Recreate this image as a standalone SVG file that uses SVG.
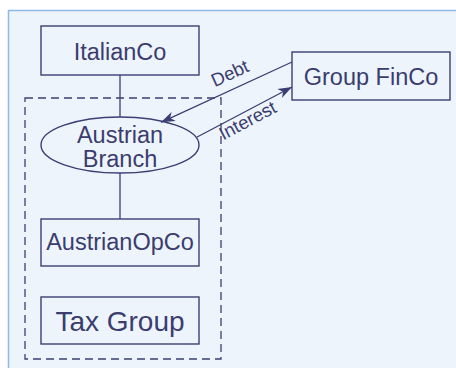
<svg xmlns="http://www.w3.org/2000/svg" width="456" height="368" viewBox="0 0 456 368">
<style>
.box{fill:none;stroke:#3b3f72;stroke-width:1.4}
.ln{fill:none;stroke:#3b3f72;stroke-width:1.3}
.t{font-family:"Liberation Sans",Arial,sans-serif;fill:#3b3d6e;text-anchor:middle}
.big{font-size:23.5px}
.lbl{font-size:18.5px}
</style>
<defs>
<marker id="ah" viewBox="0 0 14 10" refX="14" refY="5" markerWidth="14" markerHeight="10" markerUnits="userSpaceOnUse" orient="auto">
<path d="M0,0 L14,5 L0,10 L4,5 z" fill="#3b3f72"/>
</marker>
</defs>
<rect x="0" y="0" width="456" height="368" fill="#ffffff"/>
<rect x="8" y="10" width="448" height="358" fill="#edf4fc"/>
<path d="M8.5,368 V10.5 H456" fill="none" stroke="#8cb9e6" stroke-width="1.5"/>
<g id="taxgroup-boundary">
<rect x="25" y="98" width="196" height="261" fill="none" stroke="#3b3f72" stroke-width="1.3" stroke-dasharray="8,5"/>
</g>
<g id="connectors">
<line class="ln" x1="292" y1="62" x2="161" y2="122.3" marker-end="url(#ah)"/>
<line class="ln" x1="196.7" y1="137.3" x2="292" y2="87" marker-end="url(#ah)"/>
<line class="ln" x1="120" y1="75" x2="120" y2="117"/>
<line class="ln" x1="120" y1="173" x2="120" y2="219"/>
<text class="t lbl" transform="translate(232.5,79) rotate(-24.6)">Debt</text>
<text class="t lbl" transform="translate(250.5,126) rotate(-27.8)">Interest</text>
</g>
<g id="italianco">
<rect class="box" x="41" y="26" width="158" height="49"/>
<text class="t big" x="120" y="59.5">ItalianCo</text>
</g>
<g id="groupfinco">
<rect class="box" x="292" y="52" width="158" height="48"/>
<text class="t big" x="371" y="84.5">Group FinCo</text>
</g>
<g id="austrianbranch">
<ellipse class="box" cx="120" cy="145" rx="79" ry="28"/>
<text class="t big" x="120" y="142.5">Austrian</text>
<text class="t big" x="120" y="166.5">Branch</text>
</g>
<g id="austrianopco">
<rect class="box" x="41" y="219" width="158" height="47"/>
<text class="t big" x="120" y="250">AustrianOpCo</text>
</g>
<g id="taxgroup">
<rect class="box" x="41" y="297" width="158" height="47"/>
<text class="t" x="120" y="330.5" style="font-size:28px">Tax Group</text>
</g>
</svg>
